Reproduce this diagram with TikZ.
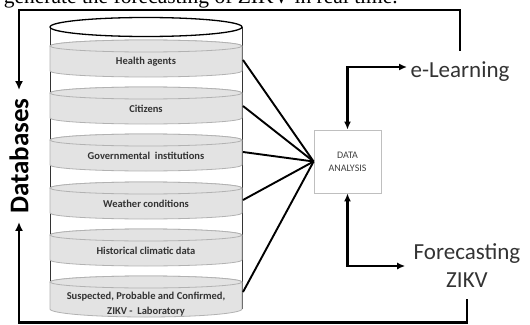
\documentclass[tikz,border=0pt]{standalone}
\usepackage{fontspec}
\setmainfont{Carlito}
\newfontfamily\seriffont{Liberation Serif}
\usetikzlibrary{positioning,arrows.meta}
\tikzstyle{band} = [fill=gray!22,draw=gray!60,line width=0.8]
\tikzstyle{bandlabel} = [align=center,text=black!80,font=\fontsize{10.5}{15}\selectfont\bfseries]
\tikzstyle{bordered} = [align=center,draw=gray!50,line width=0.8,minimum width=67,minimum height=63,text=black!75,font=\fontsize{10}{13}\selectfont]
\tikzstyle{bigtext} = [align=center,text=black!80,font=\fontsize{23}{28}\selectfont]
\tikzstyle{arrow} = [-{Latex[length=9,width=8]},line width=2.6]
\tikzstyle{twoway} = [{Latex[length=8,width=7]}-{Latex[length=8,width=7]},line width=2.3]
\tikzstyle{feed} = [line width=1.9]

\begin{document}
\begin{tikzpicture}[x=1pt,y=-1pt]
    \useasboundingbox (0,0) rectangle (530,324);
    \begin{scope}
      \clip (0,0) rectangle (530,324);
      \node [anchor=base east,inner sep=0,font=\seriffont\fontsize{21.5}{26}\selectfont] (caption) at (398,3.5) {generate the forecasting of ZIKV in real time.};
    \end{scope}

    % cylinder
    \draw [black!80,line width=1] (50,27) -- (50,309) (242,27) -- (242,309);
    \draw [line width=1.3] (146,27) ellipse [x radius=96,y radius=9.5];
    \foreach \t/\b in {46/71,93/118,140/165,188/213,235/260} {
      \path [band] (50,\t) -- (50,\b) arc [start angle=180,end angle=0,x radius=96,y radius=6] -- (242,\t) arc [start angle=360,end angle=180,x radius=96,y radius=6] -- cycle;
      \draw [band] (146,\t) ellipse [x radius=96,y radius=6];
    }
    \path [band] (50,282) -- (50,309) arc [start angle=180,end angle=0,x radius=96,y radius=8] -- (242,282) arc [start angle=360,end angle=180,x radius=96,y radius=6] -- cycle;
    \draw [band] (146,282) ellipse [x radius=96,y radius=6];

    \node [bandlabel] (health) at (146,62) {Health agents};
    \node [bandlabel] (citizens) at (146,109) {Citizens};
    \node [bandlabel] (govern) at (146,156) {Governmental \ institutions};
    \node [bandlabel] (weather) at (146,204) {Weather conditions};
    \node [bandlabel] (climate) at (146,251) {Historical climatic data};
    \node [bandlabel] (suspected) at (146,304.5) {Suspected, Probable and Confirmed,\\ZIKV - \ Laboratory};

    \coordinate (s1) at (243,60);
    \coordinate (s2) at (243,106);
    \coordinate (s3) at (243,152);
    \coordinate (s4) at (243,200);
    \coordinate (s5) at (243,292);

    \node [bordered] (analysis) at (347.5,161.5) {DATA\\ANALYSIS};
    \node [bigtext] (elearn) at (460,72) {e-Learning};
    \node [bigtext] (forecast) at (467,266) {Forecasting\\ZIKV};
    \node [rotate=90,inner xsep=8,font=\bfseries\fontsize{27}{32}\selectfont] (dbs) at (19,156) {Databases};
    \coordinate (topleft) at (19,10);
    \coordinate (botleft) at (19,322.5);

    \draw [feed] (s1) -- (analysis.west);
    \draw [feed] (s2) -- (analysis.west);
    \draw [feed] (s3) -- (analysis.west);
    \draw [feed] (s4) -- (analysis.west);
    \draw [feed] (s5) -- (analysis.west);

    \draw [twoway] ([yshift=5]elearn.west) -| (analysis.north);
    \draw [twoway] ([xshift=-5]forecast.west) -| (analysis.south);
    \draw [arrow] ([yshift=8]elearn.north) |- (topleft) -- (dbs.east);
    \draw [arrow] ([yshift=-8]forecast.south) |- (botleft) -- (dbs.west);
  \end{tikzpicture}
\end{document}
